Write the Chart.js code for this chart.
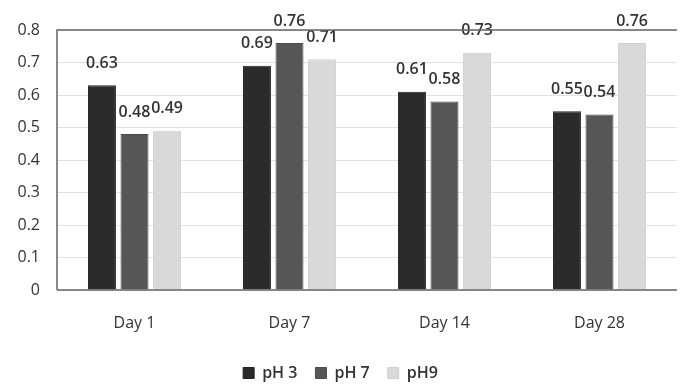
<!DOCTYPE html>
<html>
<head>
<meta charset="utf-8">
<script src="https://cdn.jsdelivr.net/npm/chart.js@4/dist/chart.umd.min.js"></script>
<style>
  html, body { margin: 0; padding: 0; background: #fff; }
  #wrap { width: 682px; height: 385px; }
</style>
</head>
<body>
<div id="wrap"><canvas id="chart"></canvas></div>
<script>
const days = ['Day 1', 'Day 7', 'Day 14', 'Day 28']
const ph3 = [0.63, 0.69, 0.61, 0.55]
const ph7 = [0.48, 0.76, 0.58, 0.54]
const ph9 = [0.49, 0.71, 0.73, 0.76]
const seriesNames = ['pH 3', 'pH 7', 'pH9']

const fontFamily = '"Open Sans", "Noto Sans", sans-serif'

// draws the value above each bar
const valueLabels = {
  id: 'valueLabels',
  afterDatasetsDraw(chart) {
    const ctx = chart.ctx
    ctx.save()
    ctx.font = `600 16px ${fontFamily}`
    ctx.fillStyle = '#333'
    ctx.textAlign = 'center'
    ctx.textBaseline = 'bottom'
    chart.data.datasets.forEach((dataset, i) => {
      chart.getDatasetMeta(i).data.forEach((bar, j) => {
        ctx.fillText(dataset.data[j].toFixed(2), bar.x, bar.y - 14)
      })
    })
    ctx.restore()
  },
}

const plotBorder = {
  id: 'plotBorder',
  afterDraw(chart) {
    const {ctx, chartArea} = chart
    ctx.save()
    ctx.strokeStyle = '#666'
    ctx.lineWidth = 1.5
    ctx.beginPath()
    ctx.moveTo(chartArea.left, chartArea.bottom)
    ctx.lineTo(chartArea.left, chartArea.top)
    ctx.lineTo(chartArea.right, chartArea.top)
    ctx.moveTo(chartArea.left, chartArea.bottom)
    ctx.lineTo(chartArea.right, chartArea.bottom)
    ctx.stroke()
    ctx.restore()
  },
}

new Chart(document.getElementById('chart').getContext('2d'), {
  type: 'bar',
  data: {
    labels: days,
    datasets: [
      {label: seriesNames[0], data: ph3, backgroundColor: '#2b2b2b', borderColor: '#222', borderWidth: 1},
      {label: seriesNames[1], data: ph7, backgroundColor: '#565656', borderColor: '#4a4a4a', borderWidth: 1},
      {label: seriesNames[2], data: ph9, backgroundColor: '#d9d9d9', borderColor: '#d0d0d0', borderWidth: 1},
    ],
  },
  options: {
    responsive: true,
    maintainAspectRatio: false,
    animation: false,
    layout: {
      padding: {top: 30, right: 5, left: 4, bottom: -6},
    },
    datasets: {
      bar: {
        barPercentage: 0.86,
        categoryPercentage: 0.63,
      },
    },
    scales: {
      x: {
        grid: {display: false},
        border: {display: false},
        afterFit: (scale) => { scale.height = 57 },
        ticks: {
          color: '#333',
          padding: 16,
          font: {family: fontFamily, size: 16},
        },
      },
      y: {
        min: 0,
        max: 0.8,
        border: {display: false},
        grid: {color: '#e2e2e2', drawTicks: false},
        afterFit: (scale) => { scale.width = 53 },
        ticks: {
          stepSize: 0.1,
          color: '#333',
          padding: 17,
          font: {family: fontFamily, size: 16},
          callback: (v) => Math.round(v * 10) / 10,
        },
      },
    },
    plugins: {
      legend: {
        position: 'bottom',
        labels: {
          boxWidth: 11,
          boxHeight: 11,
          padding: 18,
          color: '#333',
          font: {family: fontFamily, size: 16, weight: '600'},
        },
      },
      tooltip: {enabled: false},
    },
  },
  plugins: [valueLabels, plotBorder],
})
</script>
</body>
</html>
